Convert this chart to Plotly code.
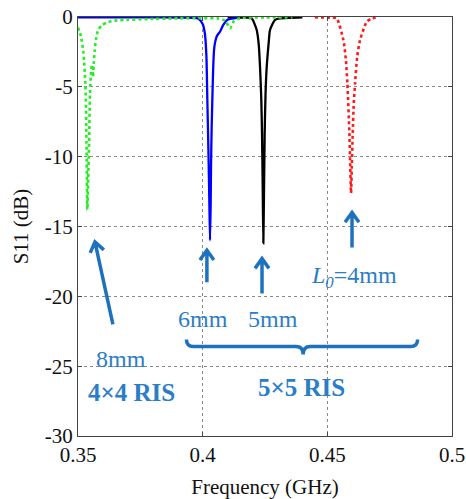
import math
import plotly.graph_objects as go

# ---------------- data ----------------
green_f = [0.3500, 0.3512, 0.3522, 0.3530, 0.3534, 0.35374, 0.3541, 0.35445, 0.3548, 0.3553,
           0.3557, 0.3560, 0.3563, 0.3567, 0.3572, 0.3581, 0.3595, 0.3615, 0.3648, 0.3700,
           0.3780, 0.3900, 0.4000, 0.4060, 0.4090, 0.4110, 0.4125, 0.4150, 0.4250, 0.4360]
green_s = [-0.75, -1.4, -2.6, -5.0, -9.0, -13.8, -11.5, -9.0, -5.5, -3.8,
           -3.4, -4.3, -3.3, -2.4, -1.6, -0.93, -0.6, -0.4, -0.26, -0.2,
           -0.15, -0.1, -0.08, -0.1, -0.25, -0.8, -0.3, -0.08, -0.04, -0.02]

blue_f = [0.3500, 0.3800, 0.3960, 0.3983, 0.4000, 0.4009, 0.4015, 0.40187, 0.4023, 0.40267,
          0.40295, 0.4032, 0.40335, 0.4036, 0.40388, 0.4042, 0.40455, 0.4050, 0.40563, 0.4063,
          0.40696, 0.40828, 0.4100, 0.4150]
blue_s = [-0.02, -0.03, -0.06, -0.12, -0.5, -1.2, -2.8, -5.9, -9.5, -13.1,
          -16.0, -13.5, -10.7, -8.0, -5.9, -3.8, -2.4, -1.8, -1.4, -1.2,
          -1.05, -0.57, -0.2, -0.05]

black_f = [0.4100, 0.4180, 0.41967, 0.42167, 0.4225, 0.42301, 0.4235, 0.4238, 0.4241, 0.42433,
           0.4246, 0.42487, 0.4252, 0.42568, 0.4265, 0.42701, 0.42902, 0.43102, 0.4400]
black_s = [-0.02, -0.05, -0.1, -0.93, -2.0, -3.6, -5.8, -8.3, -12.5, -16.2,
           -12.5, -8.3, -5.6, -3.6, -1.8, -0.93, -0.2, -0.1, -0.02]

red_f = [0.4450, 0.4520, 0.45377, 0.45643, 0.4574, 0.45804, 0.45884, 0.4592, 0.45951, 0.4598,
         0.46019, 0.4606, 0.46112, 0.4620, 0.46312, 0.46580, 0.46780, 0.4700]
red_s = [-0.02, -0.05, -0.1, -1.65, -3.0, -4.75, -8.3, -10.8, -12.6, -10.8,
         -8.3, -6.2, -4.75, -2.8, -1.65, -0.34, -0.1, -0.03]

x_ticks = [0.35, 0.4, 0.45, 0.5]
x_tick_text = ["0.35", "0.4", "0.45", "0.5"]
y_ticks = [0, -5, -10, -15, -20, -25, -30]
y_tick_text = ["0", "-5", "-10", "-15", "-20", "-25", "-30"]

# annotation labels: (text, freq, s11, bold)
labels = [
    ("8mm", 0.3674, -24.5, False),
    ("4×4 RIS", 0.3716, -26.9, True),
    ("6mm", 0.4002, -21.6, False),
    ("5mm", 0.4283, -21.6, False),
    ("<i>L<sub>0</sub></i>=4mm", 0.4606, -18.6, False),
    ("5×5 RIS", 0.4395, -26.5, True),
]
# arrows: (tail freq, tail s11, tip freq, tip s11)
arrows = [
    (0.3640, -22.0, 0.3568, -16.1),
    (0.4017, -19.0, 0.4017, -16.7),
    (0.4238, -19.8, 0.4238, -17.3),
    (0.4599, -16.5, 0.4599, -14.0),
]
# brace: left end, middle, right end (freq) and level (s11)
brace_f = [0.3935, 0.4403, 0.4862]
brace_s = -23.6

# ---------------- layout geometry ----------------
W, H = 466, 499
ML, MR, MT, MB = 78, 14, 17, 63
X0, X1 = 0.35, 0.5
Y0, Y1 = -30, 0
pw, ph = W - ML - MR, H - MT - MB

def to_px(f, s):
    return ML + (f - X0) / (X1 - X0) * pw, MT + (Y1 - s) / (Y1 - Y0) * ph

def to_data(px, py):
    return X0 + (px - ML) / pw * (X1 - X0), Y1 - (py - MT) / ph * (Y1 - Y0)

ACOL = "#1E72BD"
TCOL = "#2A7DC6"

fig = go.Figure()
fig.add_trace(go.Scatter(x=black_f, y=black_s, mode="lines",
                         line=dict(color="#000000", width=2.3, shape="spline", smoothing=0.6)))
fig.add_trace(go.Scatter(x=blue_f, y=blue_s, mode="lines",
                         line=dict(color="#0000FF", width=2.3, shape="spline", smoothing=0.6)))
fig.add_trace(go.Scatter(x=green_f, y=green_s, mode="lines",
                         line=dict(color="#22EE22", width=2.6, dash="dot", shape="spline", smoothing=0.6)))
fig.add_trace(go.Scatter(x=red_f, y=red_s, mode="lines",
                         line=dict(color="#FF1A1A", width=2.6, dash="dot", shape="spline", smoothing=0.6)))

shapes = []
def d(p):
    f, s = to_data(*p)
    return f"{f:.6f},{s:.4f}"

for (tf, ts, hf, hs) in arrows:
    tx, ty = to_px(tf, ts)
    hx, hy = to_px(hf, hs)
    ang = math.atan2(ty - hy, tx - hx)
    L = 12
    pts = []
    for da in (0.62, -0.62):
        pts.append((hx + L * math.cos(ang + da), hy + L * math.sin(ang + da)))
    path = f"M {d((tx, ty))} L {d((hx, hy))} M {d(pts[0])} L {d((hx, hy))} L {d(pts[1])}"
    shapes.append(dict(type="path", path=path, xref="x", yref="y",
                       line=dict(color=ACOL, width=3.5)))

# curly brace
lx, ly = to_px(brace_f[0], brace_s)
mx, _ = to_px(brace_f[1], brace_s)
rx, _ = to_px(brace_f[2], brace_s)
bpath = (f"M {d((lx, ly - 7))} Q {d((lx, ly))} {d((lx + 7, ly))} L {d((mx - 7, ly))} "
         f"Q {d((mx, ly))} {d((mx, ly + 8))} Q {d((mx, ly))} {d((mx + 7, ly))} "
         f"L {d((rx - 7, ly))} Q {d((rx, ly))} {d((rx, ly - 7))}")
shapes.append(dict(type="path", path=bpath, xref="x", yref="y",
                   line=dict(color=ACOL, width=3.5)))

annotations = []
for (txt, f, s, bold) in labels:
    annotations.append(dict(x=f, y=s, xref="x", yref="y", showarrow=False,
                            text=f"<b>{txt}</b>" if bold else txt,
                            font=dict(family="Liberation Serif", size=25 if bold else 24, color=TCOL)))

fig.update_layout(
    width=W, height=H,
    margin=dict(l=ML, r=MR, t=MT, b=MB, autoexpand=False),
    paper_bgcolor="white", plot_bgcolor="white",
    showlegend=False,
    shapes=shapes, annotations=annotations,
    font=dict(family="Liberation Serif", size=21, color="#111111"),
)
fig.update_xaxes(range=[X0, X1], tickvals=x_ticks, ticktext=x_tick_text, automargin=False,
                 ticklabeloverflow="allow",
                 showgrid=True, gridcolor="#8a8a8a", griddash="dot", gridwidth=1,
                 showline=True, linecolor="#444444", linewidth=1.2, mirror="ticks",
                 ticks="inside", ticklen=4, tickcolor="#444444", zeroline=False,
                 title=dict(text="Frequency (GHz)", font=dict(size=21), standoff=14))
fig.update_yaxes(range=[Y0, Y1], tickvals=y_ticks, ticktext=y_tick_text, automargin=False,
                 ticklabeloverflow="allow",
                 showgrid=True, gridcolor="#8a8a8a", griddash="dot", gridwidth=1,
                 showline=True, linecolor="#444444", linewidth=1.2, mirror="ticks",
                 ticks="inside", ticklen=4, tickcolor="#444444", zeroline=False,
                 title=dict(text="S11 (dB)", font=dict(size=21), standoff=10))

fig.write_html("out.html", config={"displayModeBar": False},
               post_script="document.body.style.margin='0';document.body.style.overflow='hidden';")
